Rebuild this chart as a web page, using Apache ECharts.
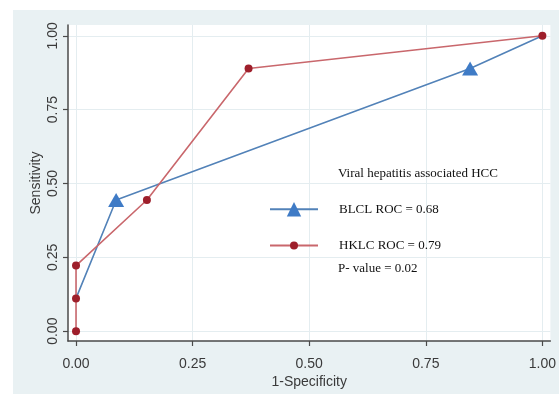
<!DOCTYPE html>
<html>
<head>
<meta charset="utf-8">
<script src="https://cdn.jsdelivr.net/npm/echarts@6/dist/echarts.min.js"></script>
<style>html,body{margin:0;padding:0;background:#fff}#c{width:559px;height:394px}</style>
</head>
<body>
<div id="c"></div>
<script>
// Data
const blclX = [0, 0.086, 0.845, 1];
const blclY = [0.111, 0.444, 0.889, 1];
const blclMarker = [false, true, true, false];
const hklcX = [0, 0, 0, 0.152, 0.370, 1];
const hklcY = [0, 0.111, 0.222, 0.444, 0.889, 1];
const tickValues = [0, 0.25, 0.5, 0.75, 1];
const tickLabels = ['0.00', '0.25', '0.50', '0.75', '1.00'];
const seriesNames = ['BLCL ROC = 0.68', 'HKLC ROC = 0.79'];
const noteTitle = 'Viral hepatitis associated HCC';
const noteP = 'P- value = 0.02';

const fmt = v => { const i = tickValues.findIndex(t => Math.abs(t - v) < 1e-9); return i >= 0 ? tickLabels[i] : ''; };

const chart = echarts.init(document.getElementById('c'), null, {renderer: 'canvas'});
const axisCommon = {
  type: 'value',
  axisLine: {show: true, onZero: false, lineStyle: {color: '#4a4a4a', width: 1.5}},
  axisTick: {show: true, length: 5, customValues: tickValues, lineStyle: {color: '#4a4a4a', width: 1.2}},
  axisLabel: {customValues: tickValues, formatter: fmt, color: '#3a3a3a', fontFamily: 'Liberation Sans, Arial, sans-serif', fontSize: 14},
  splitLine: {show: true, lineStyle: {color: '#e4edf0', width: 1}},
  nameLocation: 'middle',
  nameMoveOverlap: false,
  nameTextStyle: {color: '#3a3a3a', fontFamily: 'Liberation Sans, Arial, sans-serif', fontSize: 14}
};
const legendText = {fontFamily: '"Liberation Serif", "Times New Roman", serif', fontSize: 13, color: '#111', padding: [0, 0, 0, 16]};
chart.setOption({
  animation: false,
  backgroundColor: '#ffffff',
  graphic: [
    {type: 'rect', z: -10, silent: true, shape: {x: 13, y: 10, width: 546, height: 384}, style: {fill: '#e9f1f3'}},
    {type: 'text', z: 10, left: 338, top: 167, style: {text: noteTitle, font: '13px "Liberation Serif", "Times New Roman", serif', fill: '#111'}},
    {type: 'text', z: 10, left: 338, top: 262, style: {text: noteP, font: '13px "Liberation Serif", "Times New Roman", serif', fill: '#111'}}
  ],
  grid: {left: 68, top: 25, right: 8, bottom: 47, show: true, backgroundColor: '#ffffff', borderWidth: 0, containLabel: false},
  xAxis: Object.assign({}, axisCommon, {
    min: -0.0172, max: 1.0172, name: '1-Specificity', nameGap: 34,
    axisLabel: Object.assign({}, axisCommon.axisLabel, {margin: 16})
  }),
  yAxis: Object.assign({}, axisCommon, {
    min: -0.0332, max: 1.0365, name: 'Sensitivity', nameGap: 25,
    axisLabel: Object.assign({}, axisCommon.axisLabel, {rotate: 90, margin: 8})
  }),
  legend: [
    {orient: 'vertical', left: 264, top: 197, itemWidth: 48, itemHeight: 18, textStyle: legendText, data: [seriesNames[0]]},
    {orient: 'vertical', left: 264, top: 234, itemWidth: 48, itemHeight: 10, textStyle: legendText, data: [seriesNames[1]]}
  ],
  series: [
    {
      name: seriesNames[0], type: 'line', symbol: 'triangle', symbolSize: [16, 14],
      itemStyle: {color: '#3f7bc6'}, lineStyle: {color: '#5282b8', width: 1.6},
      data: blclX.map((x, i) => ({value: [x, blclY[i]], symbol: blclMarker[i] ? 'triangle' : 'none'})),
      z: 2
    },
    {
      name: seriesNames[1], type: 'line', symbol: 'circle', symbolSize: 8,
      itemStyle: {color: '#9e1f2b'}, lineStyle: {color: '#c9676c', width: 1.6},
      data: hklcX.map((x, i) => [x, hklcY[i]]),
      z: 3
    }
  ]
});
</script>
</body>
</html>
